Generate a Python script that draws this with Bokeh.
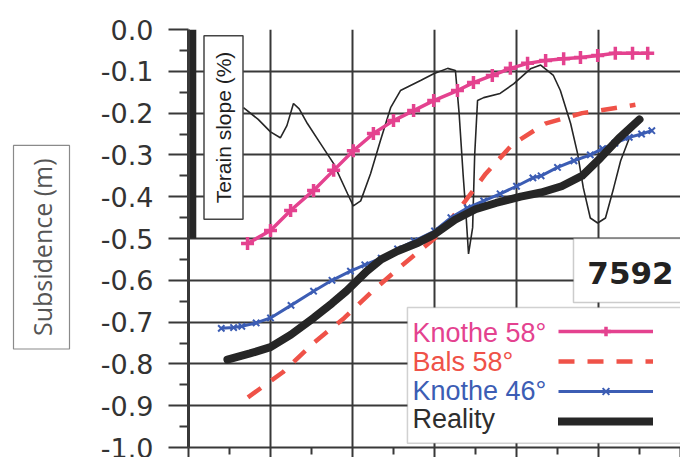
from bokeh.plotting import figure
from bokeh.layouts import row
from bokeh.models import (Range1d, FixedTicker, PrintfTickFormatter, Label,
                          BoxAnnotation, Legend, LegendItem)
from bokeh.embed import file_html
from bokeh.resources import INLINE

# ---------------- data (x in chart units, y in metres) ----------------
knothe58_x = [1.44, 2.0, 2.49, 3.05, 3.54, 4.02, 4.51, 5.0, 5.49, 5.98, 6.56,
              6.95, 7.41, 7.85, 8.27, 8.71, 9.15, 9.56, 9.98, 10.41, 10.83, 11.2]
knothe58_y = [-0.512, -0.481, -0.433, -0.385, -0.337, -0.29, -0.249, -0.218,
              -0.194, -0.17, -0.146, -0.127, -0.11, -0.093, -0.081, -0.074,
              -0.07, -0.067, -0.062, -0.057, -0.057, -0.057]

bals58_x = [1.45, 2.3, 3.05, 3.8, 4.5, 5.2, 6.0, 6.6, 7.25, 7.9, 8.7, 9.6, 10.6, 10.9]
bals58_y = [-0.88, -0.82, -0.75, -0.69, -0.625, -0.565, -0.5, -0.43, -0.345,
            -0.275, -0.225, -0.2, -0.185, -0.18]

knothe46_x = [0.8, 1.1, 1.3, 1.65, 2.0, 2.5, 3.05, 3.5, 3.95, 4.3, 4.7, 5.1, 5.5,
              6.0, 6.4, 6.8, 7.2, 7.6, 8.0, 8.4, 8.6, 9.0, 9.4, 9.8, 10.1, 10.4,
              10.75, 11.05, 11.3]
knothe46_y = [-0.715, -0.713, -0.71, -0.702, -0.69, -0.66, -0.626, -0.6, -0.578,
              -0.563, -0.547, -0.525, -0.506, -0.482, -0.45, -0.427, -0.41,
              -0.393, -0.375, -0.355, -0.35, -0.33, -0.314, -0.3, -0.285,
              -0.272, -0.258, -0.25, -0.242]

reality_x = [0.95, 1.5, 2.0, 2.5, 3.05, 3.5, 3.85, 4.35, 4.7, 5.1, 5.6, 6.0, 6.5,
             7.0, 7.5, 8.1, 8.6, 9.1, 9.6, 10.05, 10.5, 11.0]
reality_y = [-0.79, -0.775, -0.76, -0.73, -0.69, -0.655, -0.626, -0.578, -0.55,
             -0.53, -0.51, -0.49, -0.455, -0.43, -0.415, -0.4, -0.39, -0.375,
             -0.35, -0.307, -0.26, -0.215]

terrain_x = [1.34, 1.7, 2.0, 2.24, 2.4, 2.56, 2.7, 2.9, 3.22, 3.54, 3.88, 4.02,
             4.2, 4.44, 4.68, 4.93, 5.17, 5.66, 5.98, 6.32, 6.51, 6.6, 6.7, 6.76,
             6.83, 6.93, 6.98, 7.05, 7.2, 7.6, 7.93, 8.34, 8.59, 8.9, 9.07, 9.32,
             9.49, 9.63, 9.8, 9.98, 10.17, 10.37, 10.54, 10.75]
terrain_y = [-0.187, -0.215, -0.245, -0.259, -0.23, -0.177, -0.19, -0.225,
             -0.273, -0.321, -0.393, -0.422, -0.41, -0.345, -0.266, -0.187,
             -0.146, -0.122, -0.106, -0.093, -0.098, -0.2, -0.35, -0.43, -0.537,
             -0.474, -0.3, -0.17, -0.163, -0.153, -0.13, -0.094, -0.085, -0.11,
             -0.146, -0.225, -0.297, -0.379, -0.451, -0.463, -0.451, -0.379,
             -0.314, -0.26]

y_major = [0.0, -0.1, -0.2, -0.3, -0.4, -0.5, -0.6, -0.7, -0.8, -0.9, -1.0]
y_minor = [-0.05, -0.15, -0.25, -0.35, -0.45, -0.55, -0.65, -0.75, -0.85, -0.95]
x_major = [0, 2, 4, 6, 8, 10, 12]
x_minor = [1, 3, 5, 7, 9, 11]

series_names = ["Knothe 58°", "Bals 58°", "Knothe 46°", "Reality"]
y_title = "Subsidence (m)"
slope_title = "Terain slope (%)"
panel_id = "7592"

PINK = "#e4428f"
RED = "#ef5248"
BLUE = "#3c5db4"
DARK = "#262626"
GRID = "#383838"

# ---- narrow left panel holding the boxed y-axis title ----
LEFT_W = 90
t = figure(width=LEFT_W, height=457, output_backend="svg",
           toolbar_location=None, x_range=Range1d(0, LEFT_W),
           y_range=Range1d(0, 457), x_axis_type=None, y_axis_type=None,
           min_border_left=0, min_border_right=0, min_border_top=0,
           min_border_bottom=0)
t.outline_line_color = None
t.grid.visible = False
t.add_layout(Label(x=41, y=219, text=y_title, angle=90, angle_units="deg",
                   text_align="center", text_baseline="middle",
                   text_font="Open Sans", text_font_size="25px",
                   text_color="#555555", border_line_color="#8a8a8a",
                   border_line_width=1.2, background_fill_color="white",
                   padding=(13, 11)))

# ---- main chart ----
p = figure(width=680 - LEFT_W, height=457, output_backend="svg",
           toolbar_location=None, x_range=Range1d(0, 12), y_range=Range1d(-1, 0),
           min_border_left=188 - LEFT_W, min_border_right=0, min_border_top=29,
           min_border_bottom=10)
p.outline_line_color = None

# axes
p.xaxis.ticker = FixedTicker(ticks=x_major, minor_ticks=x_minor)
p.xaxis.major_label_text_font_size = "0px"
p.xaxis.major_label_standoff = 0
p.xaxis.major_tick_out = 10
p.xaxis.major_tick_in = 0
p.xaxis.minor_tick_out = 7
p.xaxis.minor_tick_in = 0
p.xaxis.axis_line_width = 2
p.xaxis.axis_line_color = GRID
p.xaxis.major_tick_line_width = 2
p.xaxis.major_tick_line_color = GRID
p.xaxis.minor_tick_line_width = 2
p.xaxis.minor_tick_line_color = GRID

p.yaxis.ticker = FixedTicker(ticks=y_major, minor_ticks=y_minor)
p.yaxis.formatter = PrintfTickFormatter(format="%.1f")
p.yaxis.major_label_text_font = "DejaVu Sans"
p.yaxis.major_label_text_font_size = "27px"
p.yaxis.major_label_text_color = "#333333"
p.yaxis.major_label_standoff = 15
p.yaxis.major_tick_out = 20
p.yaxis.major_tick_in = 0
p.yaxis.minor_tick_out = 9
p.yaxis.minor_tick_in = 0
p.yaxis.axis_line_width = 3
p.yaxis.axis_line_color = GRID
p.yaxis.major_tick_line_width = 2
p.yaxis.major_tick_line_color = GRID
p.yaxis.minor_tick_line_width = 2
p.yaxis.minor_tick_line_color = GRID

p.grid.grid_line_color = GRID
p.grid.grid_line_width = 2

# slope axis bar
p.add_layout(BoxAnnotation(left=0, right=0.19, top=0, bottom=-0.5,
                           fill_color=DARK, fill_alpha=1, line_color=None,
                           level="underlay"))

# series
terr = p.line(terrain_x, terrain_y, line_color=DARK, line_width=1.6)
r_k58 = p.line(knothe58_x, knothe58_y, line_color=PINK, line_width=3.5)
s_k58 = p.scatter(knothe58_x, knothe58_y, marker="cross", size=13,
                  line_color=PINK, line_width=3.5)
r_b58 = p.line(bals58_x, bals58_y, line_color=RED, line_width=4.5,
               line_dash="16 13")
r_k46 = p.line(knothe46_x, knothe46_y, line_color=BLUE, line_width=3)
s_k46 = p.scatter(knothe46_x, knothe46_y, marker="x", size=9,
                  line_color=BLUE, line_width=2)
r_real = p.line(reality_x, reality_y, line_color=DARK, line_width=8,
                line_cap="round", line_join="round")

p.add_layout(Label(x=35, y=320, x_units="screen", y_units="screen",
                   text=slope_title, angle=90, angle_units="deg",
                   text_align="center", text_baseline="middle",
                   text_font="Liberation Sans", text_font_size="21px",
                   text_color="#1e1e1e", border_line_color="#444444",
                   border_line_width=1.5, background_fill_color="white",
                   padding=(16, 8)))

# 7592 box
p.add_layout(BoxAnnotation(left=9.39, right=12.5, top=-0.5, bottom=-0.653,
                           fill_color="white", fill_alpha=1,
                           line_color="#555555", line_width=1.5))
p.add_layout(Label(x=442, y=175, x_units="screen", y_units="screen",
                   text=panel_id, text_align="center",
                   text_baseline="alphabetic", text_font="DejaVu Sans",
                   text_font_style="bold", text_font_size="31px",
                   text_color="#222222"))

# legend box
p.add_layout(BoxAnnotation(left=5.34, right=12.5, top=-0.665, bottom=-0.99,
                           fill_color="white", fill_alpha=1,
                           line_color="#666666", line_width=1.5))
colors = [PINK, RED, BLUE, "#2e2e2e"]
ys = [115, 86, 57, 29]
for name, c, yy in zip(series_names, colors, ys):
    p.add_layout(Label(x=224, y=yy, x_units="screen", y_units="screen",
                       text=name, text_font="Liberation Sans",
                       text_font_size="27px", text_color=c,
                       text_baseline="alphabetic"))

legend = Legend(items=[LegendItem(label=" ", renderers=[r_k58, s_k58]),
                       LegendItem(label=" ", renderers=[r_b58]),
                       LegendItem(label=" ", renderers=[r_k46, s_k46]),
                       LegendItem(label=" ", renderers=[r_real])],
                location=(370, 14), glyph_width=95, glyph_height=24,
                label_height=24, spacing=6, padding=0, margin=0,
                label_width=0, label_standoff=0, label_text_font_size="1px",
                border_line_color=None, background_fill_alpha=0)
p.add_layout(legend)

layout = row(t, p, spacing=0)
open("out.html", "w").write(file_html(layout, INLINE))
